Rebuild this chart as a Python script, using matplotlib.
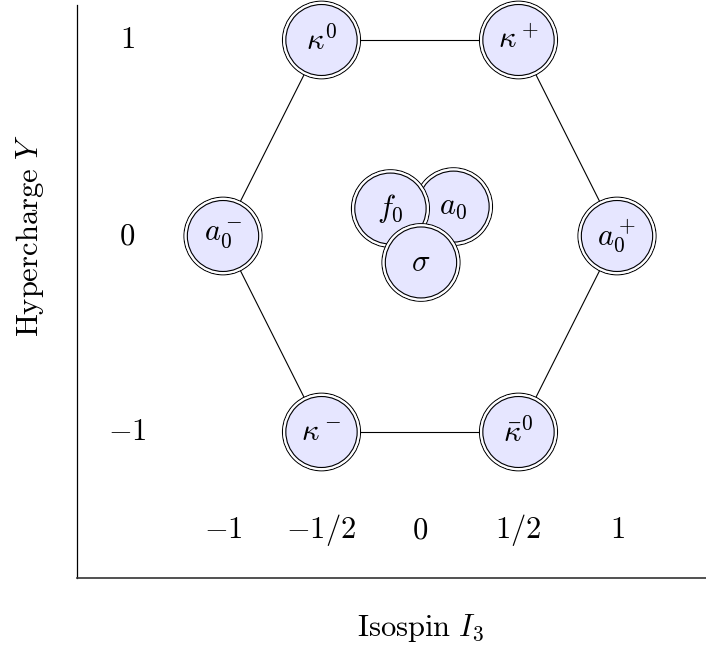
import matplotlib.pyplot as plt
from matplotlib.patches import Circle

plt.rcParams['mathtext.fontset'] = 'cm'

# scalar meson nonet: isospin I3, hypercharge Y
names = [r'$\kappa^0$', r'$\kappa^+$', r'$a_0^-$', r'$a_0^+$', r'$\kappa^-$', r'$\bar{\kappa}^0$']
iso = [-0.5, 0.5, -1.0, 1.0, -0.5, 0.5]
hyper = [1, 1, 0, 0, -1, -1]

# the three neutral states at the centre (drawn spread out)
centre_names = [r'$a_0$', r'$f_0$', r'$\sigma$']
centre_iso = [0, 0, 0]
centre_hyper = [0, 0, 0]
centre_shift = [(0.17, 0.15), (-0.15, 0.14), (0.005, -0.135)]

# hexagon edges (index pairs)
edges = [(0, 1), (1, 3), (3, 5), (5, 4), (4, 2), (2, 0)]

xticks = [-1, -0.5, 0, 0.5, 1]
xtick_labels = [r'$-1$', r'$-1/2$', r'$0$', r'$1/2$', r'$1$']
yticks = [1, 0, -1]
ytick_labels = [r'$1$', r'$0$', r'$-1$']

fill = '#e6e6ff'
r_out, r_in = 0.198, 0.181
fs = 22

fig = plt.figure(figsize=(7.06, 6.46), dpi=100)
ax = fig.add_axes([0, 0, 1, 1])
ax.set_xlim(-420 / 197, 286 / 197)
ax.set_ylim(-410 / 196, 236 / 196)
ax.axis('off')


def particle(x, y, label):
    ax.add_patch(Circle((x, y), r_out, facecolor=fill, edgecolor='black', lw=0.8, zorder=3))
    ax.add_patch(Circle((x, y), (r_out + r_in) / 2, facecolor='none', edgecolor='white',
                        lw=1.6, zorder=3))
    ax.add_patch(Circle((x, y), r_in, facecolor='none', edgecolor='black', lw=0.8, zorder=3))
    ax.text(x, y, label, ha='center', va='center', fontsize=fs, zorder=4)


for a, b in edges:
    ax.plot([iso[a], iso[b]], [hyper[a], hyper[b]], color='black', lw=0.8, zorder=1)

for x, y, n in zip(iso, hyper, names):
    particle(x, y, n)

for x, y, (dx, dy), n in zip(centre_iso, centre_hyper, centre_shift, centre_names):
    particle(x + dx, y + dy, n)

# axis frame
x0 = (77 - 420) / 197
ytop = (236 - 5) / 196
ybot = (236 - 578) / 196
ax.plot([x0, x0], [ytop, ybot], color='black', lw=0.9)
ax.plot([x0, 286 / 197], [ybot, ybot], color='#333333', lw=1.2)

for t, lab in zip(xticks, xtick_labels):
    ax.text(t, -1.5, lab, ha='center', va='center', fontsize=fs)
for t, lab in zip(yticks, ytick_labels):
    ax.text(-1.487, t, lab, ha='center', va='center', fontsize=fs)

ax.text((30 - 420) / 197, (236 - 236) / 196, r'$\mathrm{Hypercharge}\ Y$', rotation=90,
        ha='center', va='center', fontsize=fs)
ax.text(0, (236 - 628) / 196, r'$\mathrm{Isospin}\ I_3$', ha='center', va='center', fontsize=fs)

fig.savefig('out.png', dpi=100)
